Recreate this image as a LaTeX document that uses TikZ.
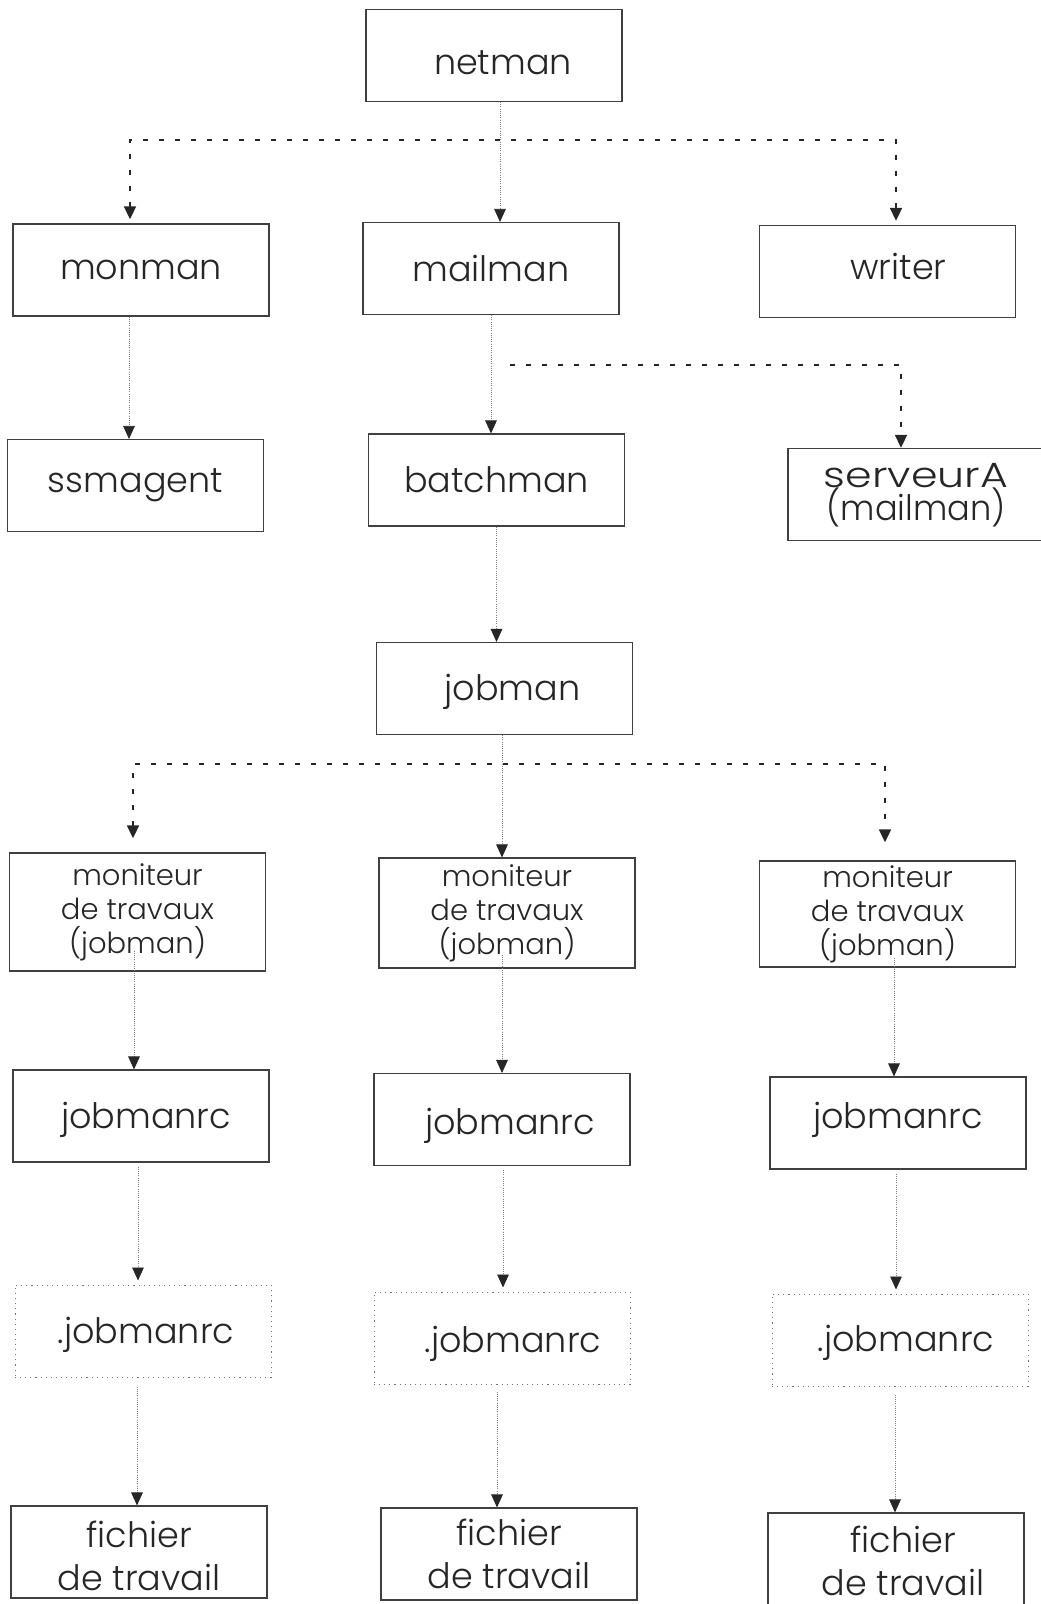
\documentclass[tikz,border=0pt]{standalone}
\usepackage{fontspec}
\usepackage{graphicx}
\setmainfont{Poppins}[UprightFont={* Light}]
\usetikzlibrary{arrows.meta,calc}
\newcommand\tsh[3]{\hbox{\kern#1\raisebox{-#2}[\height][\depth]{#3}\kern-#1}}
\newcommand\tightlines{\lineskiplimit=-30pt\relax}
\begin{document}
\begin{tikzpicture}[x=0.5pt,y=-0.5pt,
  box/.style={draw=black!75, line width=0.55pt, minimum width=128pt, minimum height=46pt,
    inner sep=0pt, align=center, text=black!85, font=\fontsize{17.5}{21.5}\selectfont},
  dbox/.style={box, draw=black!55, dotted, line width=0.5pt},
  mbox/.style={box, font=\fontsize{14.5}{17}\selectfont},
  sbox/.style={box, font=\fontsize{17.5}{15.6}\selectfont\tightlines},
  thinline/.style={draw=black!50, line width=0.4pt, dash pattern=on 0.5pt off 0.6pt,
    -{Triangle[length=6.5pt,width=5.8pt,color=black!85]}},
  bus/.style={draw=black!85, line width=1.3pt, dash pattern=on 2.5pt off 5.5pt},
  tipone/.style={-{Triangle[length=6.5pt,width=5.8pt,color=black!85]}},
  tipboth/.style={{Triangle[length=6.5pt,width=5.8pt,color=black!85]}-{Triangle[length=6.5pt,width=5.8pt,color=black!85]}}
]
\useasboundingbox (0,0) rectangle (1040,1604);

% boxes
\node[box] (netman)   at (494,55.5)  {\tsh{4.5pt}{3.5pt}{netman}};
\node[box] (monman)   at (141,270)   {monman};
\node[box] (mailman)  at (491,268.5) {mailman};
\node[box] (writer)   at (887.5,271.5) {\tsh{5.5pt}{-2.5pt}{writer}};
\node[box] (ssmagent) at (135.5,485.5) {ssmagent};
\node[box] (batchman) at (496.5,480) {batchman};
\node[sbox] (serveurA) at (916,494.5) {\scalebox{1.22}[1]{serveurA}\\\tsh{0pt}{1pt}{\scalebox{0.96}[1]{(mailman)}}};
\node[box] (jobman)   at (504.5,688.5) {\tsh{4pt}{1.5pt}{jobman}};
\node[mbox, minimum height=59pt] (mon1) at (137.5,912) {moniteur\\de travaux\\(jobman)};
\node[mbox, minimum height=55pt] (mon2) at (507,913)   {moniteur\\de travaux\\(jobman)};
\node[mbox, minimum height=53pt] (mon3) at (887.5,914) {moniteur\\de travaux\\(jobman)};
\node[box] (jrc1) at (141,1116)  {\tsh{2.5pt}{2pt}{jobmanrc}};
\node[box] (jrc2) at (502,1119.5) {\tsh{4pt}{3pt}{jobmanrc}};
\node[box] (jrc3) at (898,1123)  {\tsh{0pt}{-1.5pt}{jobmanrc}};
\node[dbox] (djrc1) at (143,1331) {\tsh{1.5pt}{2pt}{.jobmanrc}};
\node[dbox] (djrc2) at (502,1338) {\tsh{5.5pt}{3pt}{.jobmanrc}};
\node[dbox] (djrc3) at (900,1340) {\tsh{3pt}{1.5pt}{.jobmanrc}};
\node[box] (fic1) at (139,1552) {\tsh{0pt}{2pt}{fichier}\\\tsh{0pt}{2pt}{de travail}};
\node[box] (fic2) at (509,1554) {fichier\\de travail};
\node[box] (fic3) at (896,1559) {\tsh{3.5pt}{1pt}{fichier}\\\tsh{3.5pt}{1pt}{de travail}};

% netman bus
\coordinate (nbL) at (130,140);
\coordinate (nbR) at (896,140);
\draw[bus, tipboth, shorten <=2pt, shorten >=2pt] (nbL |- monman.north) -- (nbL) -- (nbR) -- (nbR |- writer.north);
\draw[thinline] ($(netman.south)+(6,0)$) coordinate (c1) -- (c1 |- mailman.north);

% mailman
\draw[thinline] (mailman.south) -- (mailman.south |- batchman.north);
\coordinate (sbL) at (510,365);
\coordinate (sbR) at (901,365);
\draw[bus, tipone] (sbL) -- (sbR) -- (sbR |- serveurA.north);

% monman
\draw[thinline] ($(monman.south)+(-12,0)$) coordinate (c0) -- (c0 |- ssmagent.north);

% batchman -> jobman
\draw[thinline] (batchman.south) -- (batchman.south |- jobman.north);

% jobman bus
\coordinate (jbL) at (133,764);
\coordinate (jbR) at (885,764);
\draw[bus, tipboth, shorten <=7pt, shorten >=9pt] (jbL |- mon1.north) -- (jbL) -- (jbR) -- (jbR |- mon3.north);
\draw[thinline] ($(jobman.south)+(-2.5,0)$) coordinate (c2) -- (c2 |- mon2.north);

% moniteur -> jobmanrc
\draw[thinline] ($(mon1.south)+(-3.5,-21)$) coordinate (m1) -- (m1 |- jrc1.north);
\draw[thinline] ($(mon2.south)+(-5,-14)$) coordinate (m2) -- (m2 |- jrc2.north);
\draw[thinline] ($(mon3.south)+(6.5,-10)$) coordinate (m3) -- (m3 |- jrc3.north);

% jobmanrc -> .jobmanrc
\draw[thinline, shorten >=2pt] ($(jrc1.south)+(-3,4)$) coordinate (j1) -- (j1 |- djrc1.north);
\draw[thinline, shorten >=2pt] ($(jrc2.south)+(1,4)$) coordinate (j2) -- (j2 |- djrc2.north);
\draw[thinline, shorten >=2pt] ($(jrc3.south)+(-2,4)$) coordinate (j3) -- (j3 |- djrc3.north);

% .jobmanrc -> fichier
\draw[thinline] ($(djrc1.south)+(-6,9)$) coordinate (d1) -- (d1 |- fic1.north);
\draw[thinline] ($(djrc2.south)+(-5,7)$) coordinate (d2) -- (d2 |- fic2.north);
\draw[thinline] ($(djrc3.south)+(-5,8)$) coordinate (d3) -- (d3 |- fic3.north);
\end{tikzpicture}
\end{document}
